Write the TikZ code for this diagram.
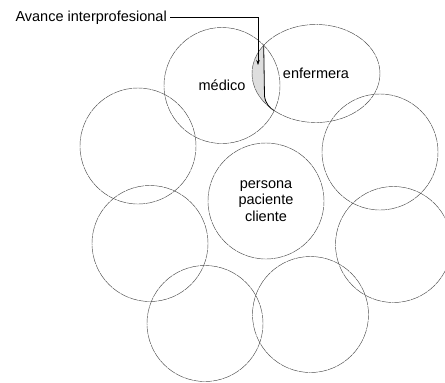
\documentclass[tikz,border=0pt]{standalone}
\usepackage{fontspec}
\setmainfont{Liberation Sans}
\usetikzlibrary{shapes.geometric,arrows.meta}
\tikzset{
  ring/.style={circle, draw=black!70, line width=0.45pt,
    dash pattern=on 9pt off 0.7pt, minimum size=116pt, inner sep=0pt,
    font=\fontsize{14.5}{16.5}\selectfont, align=center},
  oval/.style={ring, ellipse, minimum width=128pt, minimum height=98pt},
  lbl/.style={font=\fontsize{14.5}{16.5}\selectfont, inner sep=0pt},
  pointer/.style={draw=black, line width=0.5pt,
    -{Stealth[length=5pt,width=3.5pt]}},
  lens/.style={fill=black!13},
  edge/.style={draw=black, line width=0.8pt}
}
\begin{document}
\begin{tikzpicture}[x=1pt,y=-1pt]
\useasboundingbox (0,0) rectangle (445,383);

% shaded crescent where the two upper circles overlap
\begin{scope}
  \clip (222,85.5) circle[radius=58];
  \clip (316,73.5) ellipse[x radius=64, y radius=49];
  \fill[lens] (240,30) -- (263.7,30) -- (263.7,45.2) -- (264.5,96)
    .. controls (265.5,104) and (270,108) .. (274.2,110.7)
    -- (274.2,130) -- (240,130) -- cycle;
\end{scope}
\draw[edge] (263.7,45.2) -- (264.5,96)
  .. controls (265.5,104) and (270,108) .. (274.2,110.7);

% ring of circles
\node[ring] (medico) at (222,85.5) {médico};
\node[oval] (enf) at (316,73.5) {enfermera};
\node[ring] (c3) at (138,146) {};
\node[ring] (c4) at (380,152) {};
\node[ring] (c5) at (150,243.5) {};
\node[ring] (c6) at (393.5,244.5) {};
\node[ring] (c7) at (205,323.5) {};
\node[ring] (c8) at (310.5,314.5) {};
\node[ring] (centre) at (266,201) {persona\\paciente\\cliente};

% label and pointer
\node[lbl, anchor=base east] (label) at (167,21) {Avance interprofesional};
\coordinate (tip) at (258,65);
\draw[pointer] ([xshift=3pt]label.east) -| (tip);
\end{tikzpicture}
\end{document}
